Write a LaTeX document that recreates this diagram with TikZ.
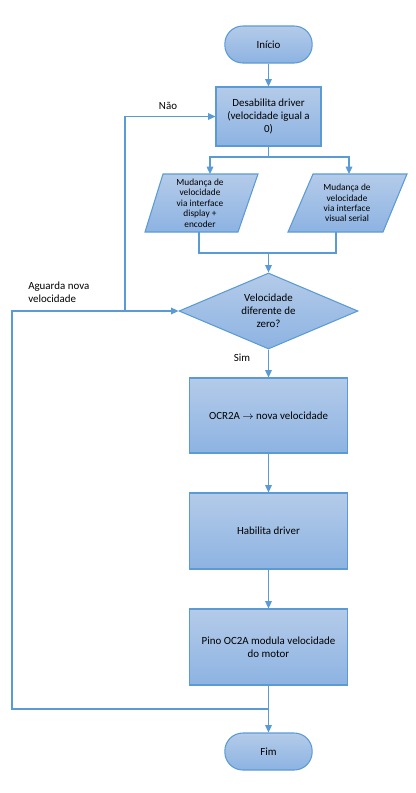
\documentclass[tikz,border=0pt]{standalone}
\usepackage{fontspec}
\setmainfont{Carlito}
\usetikzlibrary{shapes.geometric,arrows.meta}
\definecolor{lineblue}{HTML}{5B9BD5}
\definecolor{filltop}{HTML}{B4CBE9}
\definecolor{fillbot}{HTML}{8DB3E2}
\begin{document}
\begin{tikzpicture}[x=0.75pt,y=-0.75pt,
  every node/.style={font=\fontsize{8.2}{9.6}\selectfont, text=black},
  boxstyle/.style={draw=lineblue, line width=0.8pt, top color=filltop, bottom color=fillbot, align=center, inner sep=0pt, minimum width=118.5pt},
  termstyle/.style={boxstyle, minimum width=65.5pt, minimum height=27.75pt, rounded corners=13.5pt},
  parastyle/.style={draw=lineblue, line width=0.8pt, top color=filltop, bottom color=fillbot},
  paratext/.style={align=center, inner sep=0pt, minimum height=43.5pt, font=\fontsize{7}{7.8}\selectfont},
  decstyle/.style={diamond, draw=lineblue, line width=0.8pt, top color=filltop, bottom color=fillbot, align=center, inner sep=0pt, minimum width=134.25pt, minimum height=57pt, shape aspect=2.36},
  lbl/.style={inner sep=0pt},
  ln/.style={draw=lineblue, line width=0.9pt},
  arr/.style={ln, -{Triangle[length=5.5pt,width=5pt]}}]
\useasboundingbox (0,0) rectangle (416,793);

% shapes
\node[termstyle] (inicio) at (268.5,44.5) {Início};
\node[boxstyle, minimum width=78.75pt, minimum height=44.25pt] (desab) at (268.5,116.5) {Desabilita driver\\(velocidade igual a\\0)};
\path[parastyle] (163,174) -- (258,174) -- (238,232) -- (145,232) -- cycle;
\path[parastyle] (313,174) -- (407,174) -- (383,232) -- (288,232) -- cycle;
\node[paratext] (p1) at (200,203) {Mudança de\\velocidade\\via interface\\display +\\encoder};
\node[paratext] (p2) at (347,203) {Mudança de\\velocidade\\via interface\\visual serial};
\node[decstyle] (diam) at (268.5,311) {Velocidade\\diferente de\\zero?};
\node[boxstyle, minimum height=56.25pt] (ocr) at (268.5,415.5) {OCR2A $\rightarrow$ nova velocidade};
\node[boxstyle, minimum height=57pt] (hab) at (268.5,531) {Habilita driver};
\node[boxstyle, minimum height=57pt] (pino) at (268.5,647) {Pino OC2A modula velocidade\\do motor};
\node[termstyle] (fim) at (268.5,751.5) {Fim};

% labels
\node[lbl] (nao) at (168,106) {Não};
\node[lbl, anchor=west, align=left] (aguarda) at (28,292.5) {Aguarda nova\\velocidade};
\node[lbl] (sim) at (242,358) {Sim};

% coordinates
\coordinate (j1) at (268.5,157);
\coordinate (p1in) at (210,174);
\coordinate (p2in) at (349,174);
\coordinate (p1out) at (199,232);
\coordinate (p2out) at (336,232);
\coordinate (j2) at (268.5,253);
\coordinate (lA) at (125,311);
\coordinate (lC) at (12,311);
\coordinate (j3) at (268.5,709);

% connectors
\draw[arr] (inicio) -- (desab);
\draw[ln] (desab.south) -- (j1);
\draw[arr] (j1) -| (p1in);
\draw[arr] (j1) -| (p2in);
\draw[ln] (p1out) |- (j2);
\draw[ln] (p2out) |- (j2);
\draw[arr] (j2) -- (diam.north);
\draw[arr] (j3) -| (lC) -- (diam.west);
\draw[arr] (lA) |- (desab.west);
\draw[arr] (diam.south) -- (ocr.north);
\draw[arr] (ocr) -- (hab);
\draw[arr] (hab) -- (pino);
\draw[arr] (pino) -- (fim);
\end{tikzpicture}
\end{document}
